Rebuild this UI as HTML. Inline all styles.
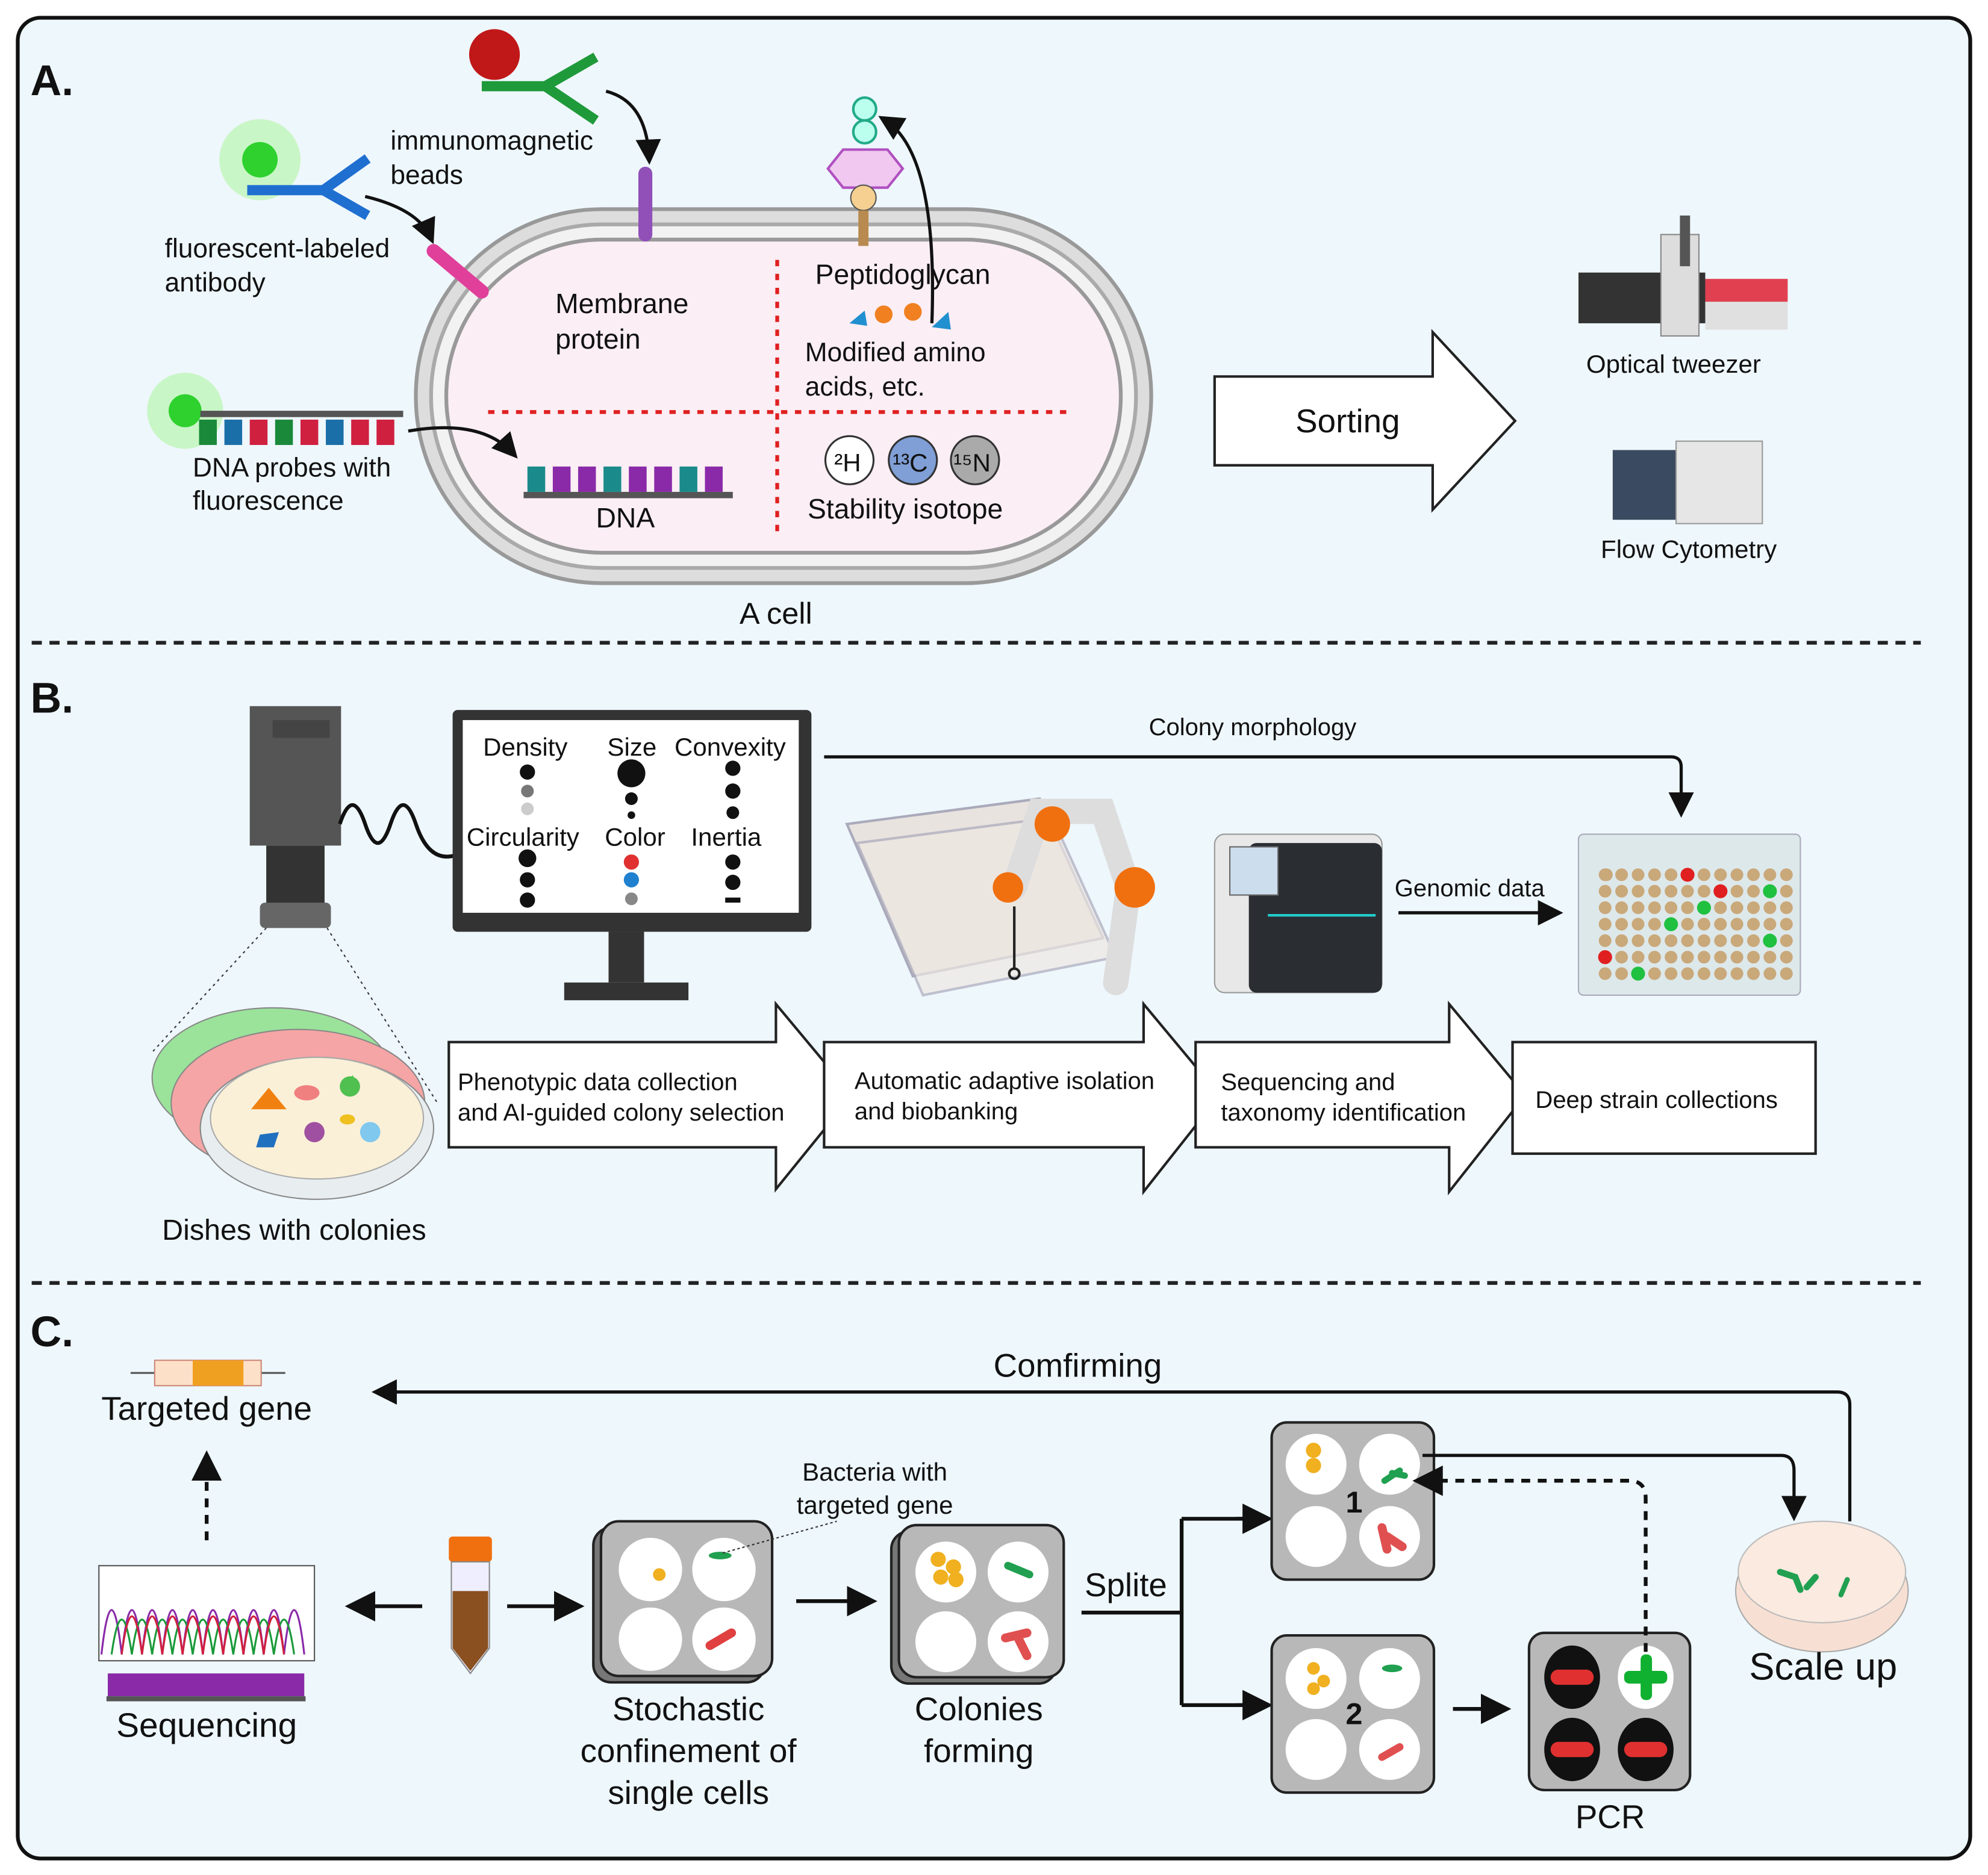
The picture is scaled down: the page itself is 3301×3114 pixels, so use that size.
<!DOCTYPE html>
<html><head><meta charset="utf-8"><style>
html,body{margin:0;padding:0;background:#fff;}
svg{display:block;}
text{font-family:"Liberation Sans",sans-serif;fill:#111;}
</style></head><body>
<svg width="3301" height="3114" viewBox="0 0 1568 1479" preserveAspectRatio="none" xmlns="http://www.w3.org/2000/svg">
<defs>
<marker id="ah" markerWidth="8" markerHeight="8" refX="6" refY="4" orient="auto" markerUnits="strokeWidth"><path d="M0,0 L8,4 L0,8 Z" fill="#111"/></marker>
</defs>
<rect x="14" y="14" width="1540" height="1452" rx="18" fill="#eef7fc" stroke="#111" stroke-width="3"/>
<line x1="25" y1="507" x2="1515" y2="507" stroke="#222" stroke-width="3" stroke-dasharray="8,6"/>
<line x1="25" y1="1012" x2="1515" y2="1012" stroke="#222" stroke-width="3" stroke-dasharray="8,6"/>
<text x="24" y="75" font-size="34" font-weight="bold">A.</text>
<text x="24" y="562" font-size="34" font-weight="bold">B.</text>
<text x="24" y="1062" font-size="34" font-weight="bold">C.</text>

<!-- Section A cell -->
<rect x="328" y="165" width="580" height="295" rx="147" fill="#ddd" stroke="#999" stroke-width="3"/>
<rect x="340" y="177" width="556" height="271" rx="135" fill="#f2f2f2" stroke="#aaa" stroke-width="3"/>
<rect x="352" y="189" width="532" height="247" rx="123" fill="#fbeef5" stroke="#999" stroke-width="3"/>
<line x1="613" y1="205" x2="613" y2="420" stroke="#e02020" stroke-width="3" stroke-dasharray="5,6"/>
<line x1="385" y1="325" x2="845" y2="325" stroke="#e02020" stroke-width="3" stroke-dasharray="5,6"/>
<text x="438" y="247" font-size="22">Membrane</text>
<text x="438" y="275" font-size="22">protein</text>
<text x="643" y="224" font-size="22">Peptidoglycan</text>
<text x="635" y="285" font-size="21">Modified  amino</text>
<text x="635" y="312" font-size="21">acids, etc.</text>
<text x="637" y="409" font-size="22">Stability isotope</text>
<text x="470" y="416" font-size="22">DNA</text>
<text x="612" y="492" font-size="24" text-anchor="middle">A cell</text>
<circle cx="670" cy="363" r="19" fill="#fff" stroke="#333" stroke-width="1.5"/><text x="658" y="372" font-size="20">²H</text>
<circle cx="720" cy="363" r="19" fill="#7f9fd6" stroke="#333" stroke-width="1.5"/><text x="704" y="372" font-size="20">¹³C</text>
<circle cx="769" cy="363" r="19" fill="#aaa" stroke="#333" stroke-width="1.5"/><text x="752" y="372" font-size="20">¹⁵N</text>
<!-- DNA -->
<rect x="413" y="388" width="165" height="5" fill="#555"/>
<g fill="#1b8a8a"><rect x="416" y="368" width="14" height="20"/><rect x="476" y="368" width="14" height="20"/><rect x="536" y="368" width="14" height="20"/></g>
<g fill="#8a2aa8"><rect x="436" y="368" width="14" height="20"/><rect x="456" y="368" width="14" height="20"/><rect x="496" y="368" width="14" height="20"/><rect x="516" y="368" width="14" height="20"/><rect x="556" y="368" width="14" height="20"/></g>
<!-- probe -->
<circle cx="146" cy="324" r="30" fill="#bff5b8" opacity="0.8"/><circle cx="146" cy="324" r="13" fill="#2ed12e"/>
<rect x="158" y="324" width="160" height="5" fill="#555"/>
<g><rect x="157" y="331" width="14" height="20" fill="#1a8a3a"/><rect x="177" y="331" width="14" height="20" fill="#1b6fa8"/><rect x="197" y="331" width="14" height="20" fill="#d02040"/><rect x="217" y="331" width="14" height="20" fill="#1a8a3a"/><rect x="237" y="331" width="14" height="20" fill="#d02040"/><rect x="257" y="331" width="14" height="20" fill="#1b6fa8"/><rect x="277" y="331" width="14" height="20" fill="#d02040"/><rect x="297" y="331" width="14" height="20" fill="#d02040"/></g>
<text x="152" y="376" font-size="21">DNA probes with</text>
<text x="152" y="402" font-size="21">fluorescence</text>
<path d="M322,340 Q380,330 405,358" fill="none" stroke="#111" stroke-width="2.5" marker-end="url(#ah)"/>
<!-- fluorescent antibody -->
<circle cx="205" cy="126" r="32" fill="#bff5b8" opacity="0.8"/><circle cx="205" cy="126" r="14" fill="#2ed12e"/>
<path d="M195,150 L255,150 L290,125 M255,150 L290,170" stroke="#1f6fd0" stroke-width="8" fill="none"/>
<text x="130" y="203" font-size="21">fluorescent-labeled</text>
<text x="130" y="230" font-size="21">antibody</text>
<path d="M288,155 Q330,165 340,188" fill="none" stroke="#111" stroke-width="2.5" marker-end="url(#ah)"/>
<line x1="342" y1="198" x2="380" y2="230" stroke="#e0409a" stroke-width="11" stroke-linecap="round"/>
<!-- immunomagnetic -->
<circle cx="390" cy="43" r="20" fill="#c01818"/>
<path d="M380,68 L430,68 L470,45 M430,68 L470,95" stroke="#1f9a3a" stroke-width="8" fill="none"/>
<text x="308" y="118" font-size="21">immunomagnetic</text>
<text x="308" y="145" font-size="21">beads</text>
<path d="M478,72 Q510,80 512,125" fill="none" stroke="#111" stroke-width="2.5" marker-end="url(#ah)"/>
<line x1="509" y1="137" x2="509" y2="185" stroke="#9050b8" stroke-width="11" stroke-linecap="round"/>
<!-- peptidoglycan top -->
<circle cx="682" cy="86" r="9" fill="#bfe" stroke="#2a8" stroke-width="2"/><circle cx="682" cy="104" r="9" fill="#bfe" stroke="#2a8" stroke-width="2"/>
<polygon points="665,118 700,118 712,133 700,148 665,148 653,133" fill="#f0c8f0" stroke="#b050c0" stroke-width="2"/>
<circle cx="681" cy="156" r="10" fill="#f5d090" stroke="#555"/>
<rect x="677" y="166" width="8" height="28" fill="#b88a50"/>
<path d="M735,255 Q740,120 697,94" fill="none" stroke="#111" stroke-width="2.5" marker-end="url(#ah)"/>
<circle cx="697" cy="248" r="7" fill="#f08020"/><circle cx="720" cy="246" r="7" fill="#f08020"/><polygon points="670,255 682,245 684,257" fill="#2090d0"/><polygon points="735,258 748,246 750,260" fill="#2090d0"/>
<!-- sorting arrow -->
<polygon points="958,297 1130,297 1130,262 1195,332 1130,402 1130,367 958,367" fill="#fff" stroke="#222" stroke-width="2"/>
<text x="1063" y="341" font-size="26" text-anchor="middle">Sorting</text>
<!-- optical tweezer -->
<rect x="1245" y="215" width="100" height="40" fill="#333"/>
<rect x="1310" y="185" width="30" height="80" fill="#ddd" stroke="#888"/>
<rect x="1345" y="220" width="65" height="40" fill="#e0e0e0"/><rect x="1345" y="220" width="65" height="18" fill="#e04050"/>
<rect x="1325" y="170" width="8" height="40" fill="#555"/>
<text x="1320" y="294" font-size="20" text-anchor="middle">Optical tweezer</text>
<rect x="1272" y="355" width="55" height="55" fill="#3a4a60"/><rect x="1322" y="348" width="68" height="65" fill="#e6e6e6" stroke="#999"/>
<text x="1332" y="440" font-size="20" text-anchor="middle">Flow Cytometry</text>

<!-- Section B -->
<rect x="197" y="557" width="72" height="110" fill="#555"/><rect x="215" y="568" width="45" height="14" fill="#444"/>
<rect x="210" y="667" width="46" height="55" fill="#333"/><rect x="205" y="712" width="56" height="20" rx="4" fill="#666"/>
<path d="M268,650 q10,-30 20,0 q10,30 20,0 q10,-30 20,0 q10,30 30,25" fill="none" stroke="#111" stroke-width="3"/>
<line x1="210" y1="732" x2="120" y2="830" stroke="#333" stroke-dasharray="2,3"/><line x1="258" y1="732" x2="345" y2="870" stroke="#333" stroke-dasharray="2,3"/>
<rect x="357" y="560" width="283" height="175" rx="4" fill="#333"/>
<rect x="365" y="568" width="265" height="152" fill="#fff"/>
<rect x="480" y="735" width="28" height="40" fill="#333"/><rect x="445" y="775" width="98" height="14" fill="#333"/>
<g font-size="20"><text x="381" y="596">Density</text><text x="479" y="596">Size</text><text x="532" y="596">Convexity</text>
<text x="368" y="667">Circularity</text><text x="477" y="667">Color</text><text x="545" y="667">Inertia</text></g>
<g fill="#111"><circle cx="416" cy="609" r="6"/><circle cx="498" cy="610" r="11"/><circle cx="498" cy="630" r="5"/><circle cx="498" cy="643" r="3"/><circle cx="578" cy="606" r="6"/><circle cx="578" cy="624" r="6"/><circle cx="578" cy="641" r="5"/>
<circle cx="416" cy="677" r="7"/><circle cx="416" cy="694" r="6"/><circle cx="416" cy="710" r="6"/><circle cx="578" cy="680" r="6"/><circle cx="578" cy="696" r="6"/><rect x="572" y="708" width="12" height="4"/></g>
<circle cx="416" cy="624" r="5" fill="#777"/><circle cx="416" cy="638" r="5" fill="#ccc"/>
<circle cx="498" cy="680" r="6" fill="#e03030"/><circle cx="498" cy="694" r="6" fill="#2080d0"/><circle cx="498" cy="709" r="5" fill="#888"/>
<text x="988" y="580" font-size="19" text-anchor="middle">Colony morphology</text>
<path d="M650,597 L1318,597 Q1326,597 1326,605 L1326,640" fill="none" stroke="#111" stroke-width="2.5" marker-end="url(#ah)"/>
<!-- robot -->
<polygon points="668,650 820,630 870,740 720,770" fill="#e8e3df" stroke="#aab" stroke-width="2"/>
<polygon points="676,665 830,645 880,755 728,785" fill="#efe8e3" stroke="#aab" stroke-width="2" opacity="0.7"/>
<path d="M800,700 L820,640 L870,640 L890,700 L880,775" fill="none" stroke="#ddd" stroke-width="20" stroke-linecap="round"/>
<circle cx="830" cy="650" r="14" fill="#f07010"/><circle cx="895" cy="700" r="16" fill="#f07010"/><circle cx="795" cy="700" r="12" fill="#f07010"/>
<line x1="800" y1="715" x2="800" y2="765" stroke="#222" stroke-width="2"/><circle cx="800" cy="768" r="4" fill="none" stroke="#222" stroke-width="2"/>
<!-- sequencer -->
<rect x="958" y="658" width="132" height="125" rx="8" fill="#e8e8e8" stroke="#999"/>
<rect x="985" y="665" width="105" height="118" rx="6" fill="#2a2e33"/><rect x="970" y="668" width="38" height="38" fill="#cde" stroke="#666"/>
<line x1="1000" y1="722" x2="1085" y2="722" stroke="#2cc" stroke-width="2"/>
<text x="1100" y="707" font-size="19">Genomic data</text>
<line x1="1103" y1="720" x2="1228" y2="720" stroke="#111" stroke-width="2.5" marker-end="url(#ah)"/>
<!-- plate -->
<rect x="1245" y="658" width="175" height="127" rx="4" fill="#dde8ea" stroke="#aab"/>
<g id="pl" fill="#c8a878">
<circle cx="1267" cy="690" r="5"/>
</g>
<g fill="#c9a87a">
<path d="M0,0"/>
</g>
<g>
<!-- grid of wells -->
<g fill="#c9a87a">
<circle cx="1266" cy="690" r="5"/><circle cx="1279" cy="690" r="5"/><circle cx="1292" cy="690" r="5"/><circle cx="1305" cy="690" r="5"/><circle cx="1318" cy="690" r="5"/><circle cx="1331" cy="690" r="5"/><circle cx="1344" cy="690" r="5"/><circle cx="1357" cy="690" r="5"/><circle cx="1370" cy="690" r="5"/><circle cx="1383" cy="690" r="5"/><circle cx="1396" cy="690" r="5"/><circle cx="1409" cy="690" r="5"/>
<circle cx="1266" cy="703" r="5"/><circle cx="1279" cy="703" r="5"/><circle cx="1292" cy="703" r="5"/><circle cx="1305" cy="703" r="5"/><circle cx="1318" cy="703" r="5"/><circle cx="1331" cy="703" r="5"/><circle cx="1344" cy="703" r="5"/><circle cx="1357" cy="703" r="5"/><circle cx="1370" cy="703" r="5"/><circle cx="1383" cy="703" r="5"/><circle cx="1396" cy="703" r="5"/><circle cx="1409" cy="703" r="5"/>
<circle cx="1266" cy="716" r="5"/><circle cx="1279" cy="716" r="5"/><circle cx="1292" cy="716" r="5"/><circle cx="1305" cy="716" r="5"/><circle cx="1318" cy="716" r="5"/><circle cx="1331" cy="716" r="5"/><circle cx="1344" cy="716" r="5"/><circle cx="1357" cy="716" r="5"/><circle cx="1370" cy="716" r="5"/><circle cx="1383" cy="716" r="5"/><circle cx="1396" cy="716" r="5"/><circle cx="1409" cy="716" r="5"/>
<circle cx="1266" cy="729" r="5"/><circle cx="1279" cy="729" r="5"/><circle cx="1292" cy="729" r="5"/><circle cx="1305" cy="729" r="5"/><circle cx="1318" cy="729" r="5"/><circle cx="1331" cy="729" r="5"/><circle cx="1344" cy="729" r="5"/><circle cx="1357" cy="729" r="5"/><circle cx="1370" cy="729" r="5"/><circle cx="1383" cy="729" r="5"/><circle cx="1396" cy="729" r="5"/><circle cx="1409" cy="729" r="5"/>
<circle cx="1266" cy="742" r="5"/><circle cx="1279" cy="742" r="5"/><circle cx="1292" cy="742" r="5"/><circle cx="1305" cy="742" r="5"/><circle cx="1318" cy="742" r="5"/><circle cx="1331" cy="742" r="5"/><circle cx="1344" cy="742" r="5"/><circle cx="1357" cy="742" r="5"/><circle cx="1370" cy="742" r="5"/><circle cx="1383" cy="742" r="5"/><circle cx="1396" cy="742" r="5"/><circle cx="1409" cy="742" r="5"/>
<circle cx="1266" cy="755" r="5"/><circle cx="1279" cy="755" r="5"/><circle cx="1292" cy="755" r="5"/><circle cx="1305" cy="755" r="5"/><circle cx="1318" cy="755" r="5"/><circle cx="1331" cy="755" r="5"/><circle cx="1344" cy="755" r="5"/><circle cx="1357" cy="755" r="5"/><circle cx="1370" cy="755" r="5"/><circle cx="1383" cy="755" r="5"/><circle cx="1396" cy="755" r="5"/><circle cx="1409" cy="755" r="5"/>
<circle cx="1266" cy="768" r="5"/><circle cx="1279" cy="768" r="5"/><circle cx="1292" cy="768" r="5"/><circle cx="1305" cy="768" r="5"/><circle cx="1318" cy="768" r="5"/><circle cx="1331" cy="768" r="5"/><circle cx="1344" cy="768" r="5"/><circle cx="1357" cy="768" r="5"/><circle cx="1370" cy="768" r="5"/><circle cx="1383" cy="768" r="5"/><circle cx="1396" cy="768" r="5"/><circle cx="1409" cy="768" r="5"/>
</g>
<g fill="#e02020"><circle cx="1331" cy="690" r="5.5"/><circle cx="1357" cy="703" r="5.5"/><circle cx="1266" cy="755" r="5.5"/></g>
<g fill="#20c040"><circle cx="1344" cy="716" r="5.5"/><circle cx="1396" cy="703" r="5.5"/><circle cx="1318" cy="729" r="5.5"/><circle cx="1396" cy="742" r="5.5"/><circle cx="1292" cy="768" r="5.5"/></g>
</g>
<!-- dishes -->
<ellipse cx="215" cy="850" rx="95" ry="55" fill="#9be39b" stroke="#888"/>
<ellipse cx="235" cy="870" rx="100" ry="58" fill="#f5a5a5" stroke="#888"/>
<ellipse cx="250" cy="890" rx="92" ry="56" fill="#e8eef0" stroke="#888"/>
<ellipse cx="250" cy="882" rx="84" ry="48" fill="#faf0d8" stroke="#aaa"/>
<polygon points="198,875 212,858 226,875" fill="#f08010"/><ellipse cx="242" cy="862" rx="10" ry="6" fill="#f08080"/>
<polygon points="278,848 284,858 272,858" fill="#50c050"/><circle cx="276" cy="857" r="8" fill="#50c050"/>
<polygon points="205,895 220,893 216,905 202,905" fill="#2070c0"/><circle cx="248" cy="893" r="8" fill="#a050a0"/><circle cx="292" cy="893" r="8" fill="#80c8ee"/><ellipse cx="274" cy="883" rx="6" ry="4" fill="#f0c020"/>
<text x="232" y="978" font-size="23" text-anchor="middle">Dishes with colonies</text>
<!-- process arrows -->
<g fill="#fff" stroke="#222" stroke-width="2">
<polygon points="354,822 612,822 612,792 672,864 612,938 612,905 354,905"/>
<polygon points="650,822 902,822 902,792 962,864 902,940 902,905 650,905"/>
<polygon points="943,822 1143,822 1143,792 1203,864 1143,940 1143,905 943,905"/>
<rect x="1193" y="822" width="239" height="88"/>
</g>
<g font-size="19">
<text x="361" y="860">Phenotypic data collection</text><text x="361" y="884">and AI-guided colony selection</text>
<text x="674" y="859">Automatic adaptive isolation</text><text x="674" y="883">and biobanking</text>
<text x="963" y="860">Sequencing and</text><text x="963" y="884">taxonomy identification</text>
<text x="1211" y="874">Deep strain collections</text>
</g>

<!-- Section C -->
<line x1="103" y1="1083" x2="225" y2="1083" stroke="#555" stroke-width="1.5"/>
<rect x="122" y="1073" width="84" height="20" fill="#fde0c8" stroke="#c87" /><rect x="152" y="1073" width="40" height="20" fill="#f0a020"/>
<text x="163" y="1120" font-size="26" text-anchor="middle">Targeted gene</text>
<text x="850" y="1086" font-size="26" text-anchor="middle">Comfirming</text>
<path d="M1459,1200 L1459,1108 Q1459,1098 1449,1098 L298,1098" fill="none" stroke="#111" stroke-width="2.5" marker-end="url(#ah)"/>
<line x1="163" y1="1215" x2="163" y2="1150" stroke="#111" stroke-width="3" stroke-dasharray="7,6" marker-end="url(#ah)"/>
<rect x="78" y="1235" width="170" height="75" fill="#fff" stroke="#555"/>
<path d="M80,1305 q8,-70 16,0 q8,-70 16,0 q8,-70 16,0 q8,-70 16,0 q8,-70 16,0 q8,-70 16,0 q8,-70 16,0 q8,-70 16,0 q8,-70 16,0 q8,-70 16,0" fill="none" stroke="#8a2aa8" stroke-width="1.5"/>
<path d="M88,1305 q8,-55 16,0 q8,-55 16,0 q8,-55 16,0 q8,-55 16,0 q8,-55 16,0 q8,-55 16,0 q8,-55 16,0 q8,-55 16,0 q8,-55 16,0" fill="none" stroke="#1a9a3a" stroke-width="1.5"/>
<path d="M96,1305 q8,-60 16,0 q8,-60 16,0 q8,-60 16,0 q8,-60 16,0 q8,-60 16,0 q8,-60 16,0 q8,-60 16,0 q8,-60 16,0" fill="none" stroke="#d02040" stroke-width="1.5"/>
<rect x="85" y="1320" width="155" height="18" fill="#8a2aa8"/><rect x="84" y="1338" width="157" height="4" fill="#555"/>
<text x="163" y="1370" font-size="27" text-anchor="middle">Sequencing</text>
<line x1="333" y1="1267" x2="278" y2="1267" stroke="#111" stroke-width="3" marker-end="url(#ah)"/>
<line x1="400" y1="1267" x2="455" y2="1267" stroke="#111" stroke-width="3" marker-end="url(#ah)"/>
<!-- tube -->
<rect x="354" y="1212" width="34" height="20" rx="3" fill="#f07010"/>
<path d="M356,1232 L386,1232 L386,1300 L371,1320 L356,1300 Z" fill="#eef" stroke="#888"/>
<path d="M357,1255 L385,1255 L385,1300 L371,1318 L357,1300 Z" fill="#8a5020"/>
<!-- plates helper -->
<g>
<rect x="468" y="1205" width="135" height="122" rx="14" fill="#777" stroke="#222" stroke-width="2"/>
<rect x="474" y="1200" width="135" height="122" rx="14" fill="#b8b8b8" stroke="#222" stroke-width="2"/>
<circle cx="513" cy="1238" r="25" fill="#fff"/><circle cx="571" cy="1238" r="25" fill="#fff"/><circle cx="513" cy="1293" r="25" fill="#fff"/><circle cx="571" cy="1293" r="25" fill="#fff"/>
<circle cx="520" cy="1242" r="5" fill="#f0b020"/><ellipse cx="568" cy="1227" rx="9" ry="3" fill="#20a050"/><line x1="560" y1="1298" x2="577" y2="1288" stroke="#e04040" stroke-width="7" stroke-linecap="round"/>
</g>
<text x="690" y="1168" font-size="20" text-anchor="middle">Bacteria with</text>
<text x="690" y="1194" font-size="20" text-anchor="middle">targeted gene</text>
<line x1="570" y1="1225" x2="660" y2="1200" stroke="#333" stroke-dasharray="2,2"/>
<text x="543" y="1357" font-size="26" text-anchor="middle">Stochastic</text>
<text x="543" y="1390" font-size="26" text-anchor="middle">confinement of</text>
<text x="543" y="1423" font-size="26" text-anchor="middle">single cells</text>
<line x1="628" y1="1263" x2="686" y2="1263" stroke="#111" stroke-width="3" marker-end="url(#ah)"/>
<g>
<rect x="703" y="1208" width="130" height="120" rx="14" fill="#777" stroke="#222" stroke-width="2"/>
<rect x="709" y="1203" width="130" height="120" rx="14" fill="#b8b8b8" stroke="#222" stroke-width="2"/>
<circle cx="746" cy="1240" r="24" fill="#fff"/><circle cx="803" cy="1240" r="24" fill="#fff"/><circle cx="746" cy="1295" r="24" fill="#fff"/><circle cx="803" cy="1295" r="24" fill="#fff"/>
<g fill="#f0b020"><circle cx="740" cy="1230" r="6"/><circle cx="752" cy="1236" r="6"/><circle cx="742" cy="1244" r="6"/><circle cx="754" cy="1246" r="6"/></g>
<line x1="795" y1="1235" x2="812" y2="1242" stroke="#20a050" stroke-width="6" stroke-linecap="round"/>
<path d="M793,1292 L810,1288 M802,1290 L810,1306" stroke="#e05050" stroke-width="7" stroke-linecap="round"/>
</g>
<text x="772" y="1357" font-size="26" text-anchor="middle">Colonies</text>
<text x="772" y="1390" font-size="26" text-anchor="middle">forming</text>
<text x="888" y="1259" font-size="26" text-anchor="middle">Splite</text>
<path d="M853,1272 L932,1272 M932,1198 L932,1345 M932,1198 L995,1198 M932,1345 L995,1345" fill="none" stroke="#111" stroke-width="3"/>
<line x1="975" y1="1198" x2="998" y2="1198" stroke="#111" stroke-width="3" marker-end="url(#ah)"/>
<line x1="975" y1="1345" x2="998" y2="1345" stroke="#111" stroke-width="3" marker-end="url(#ah)"/>
<!-- plate 1 -->
<rect x="1003" y="1122" width="128" height="124" rx="12" fill="#b8b8b8" stroke="#222" stroke-width="2"/>
<circle cx="1038" cy="1155" r="24" fill="#fff"/><circle cx="1096" cy="1155" r="24" fill="#fff"/><circle cx="1038" cy="1212" r="24" fill="#fff"/><circle cx="1096" cy="1212" r="24" fill="#fff"/>
<circle cx="1036" cy="1144" r="6" fill="#f0b020"/><circle cx="1036" cy="1156" r="6" fill="#f0b020"/>
<path d="M1092,1168 L1104,1160 M1098,1162 L1108,1164" stroke="#20a050" stroke-width="5" stroke-linecap="round"/>
<path d="M1090,1205 L1094,1222 M1094,1212 L1106,1220" stroke="#e05050" stroke-width="7" stroke-linecap="round"/>
<text x="1068" y="1193" font-size="24" font-weight="bold" text-anchor="middle">1</text>
<!-- plate 2 -->
<rect x="1003" y="1290" width="128" height="124" rx="12" fill="#b8b8b8" stroke="#222" stroke-width="2"/>
<circle cx="1038" cy="1324" r="24" fill="#fff"/><circle cx="1096" cy="1324" r="24" fill="#fff"/><circle cx="1038" cy="1380" r="24" fill="#fff"/><circle cx="1096" cy="1380" r="24" fill="#fff"/>
<g fill="#f0b020"><circle cx="1036" cy="1316" r="5"/><circle cx="1044" cy="1326" r="5"/><circle cx="1036" cy="1332" r="5"/></g>
<ellipse cx="1098" cy="1316" rx="8" ry="3" fill="#20a050"/><line x1="1090" y1="1386" x2="1104" y2="1378" stroke="#e05050" stroke-width="6" stroke-linecap="round"/>
<text x="1068" y="1360" font-size="24" font-weight="bold" text-anchor="middle">2</text>
<line x1="1146" y1="1348" x2="1186" y2="1348" stroke="#111" stroke-width="3" marker-end="url(#ah)"/>
<!-- PCR -->
<rect x="1206" y="1288" width="127" height="124" rx="12" fill="#b8b8b8" stroke="#222" stroke-width="2"/>
<ellipse cx="1240" cy="1323" rx="22" ry="25" fill="#111"/><ellipse cx="1298" cy="1323" rx="22" ry="25" fill="#fff"/><ellipse cx="1240" cy="1380" rx="22" ry="25" fill="#111"/><ellipse cx="1298" cy="1380" rx="22" ry="25" fill="#111"/>
<rect x="1223" y="1317" width="34" height="12" rx="6" fill="#e03030"/><rect x="1223" y="1374" width="34" height="12" rx="6" fill="#e03030"/><rect x="1281" y="1374" width="34" height="12" rx="6" fill="#e03030"/>
<rect x="1294" y="1305" width="9" height="36" rx="4" fill="#10b030"/><rect x="1281" y="1318" width="34" height="10" rx="4" fill="#10b030"/>
<text x="1270" y="1442" font-size="26" text-anchor="middle">PCR</text>
<path d="M1298,1303 L1298,1182 Q1298,1168 1285,1168 L1120,1168" fill="none" stroke="#111" stroke-width="3" stroke-dasharray="7,6" marker-end="url(#ah)"/>
<path d="M1122,1148 L1405,1148 Q1415,1148 1415,1160 L1415,1195" fill="none" stroke="#111" stroke-width="2.5" marker-end="url(#ah)"/>
<!-- scale up dish -->
<ellipse cx="1437" cy="1255" rx="68" ry="48" fill="#f7e0d3" stroke="#aaa"/>
<ellipse cx="1437" cy="1240" rx="66" ry="40" fill="#faeae0" stroke="#bbb"/>
<path d="M1404,1240 L1416,1244 L1420,1254 M1425,1252 L1432,1244" stroke="#20a050" stroke-width="5" fill="none" stroke-linecap="round"/>
<line x1="1452" y1="1258" x2="1457" y2="1246" stroke="#20a050" stroke-width="4" stroke-linecap="round"/>
<text x="1438" y="1325" font-size="30" text-anchor="middle">Scale up</text>
</svg>
</body></html>
